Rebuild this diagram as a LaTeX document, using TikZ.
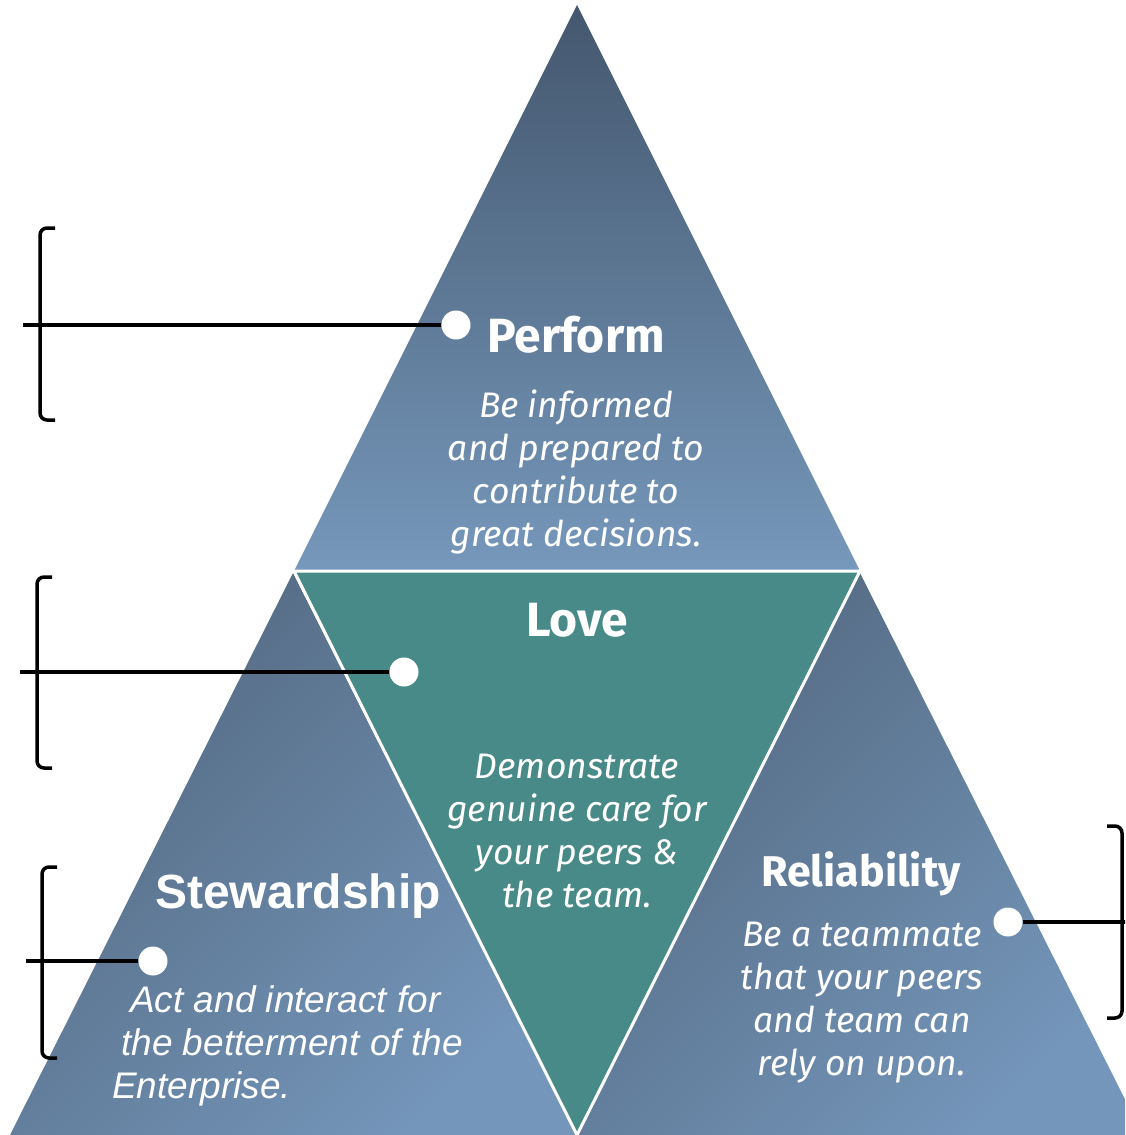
\documentclass[tikz,border=0pt]{standalone}
\usepackage{fontspec}
\setmainfont{Fira Sans}
\newfontfamily\arialfont{Liberation Sans}
\definecolor{slatetop}{HTML}{44576E}
\definecolor{slatebottom}{HTML}{7698BB}
\definecolor{slatedark}{HTML}{536880}
\definecolor{slatelight}{HTML}{7496BA}
\definecolor{loveteal}{HTML}{488A87}

\begin{document}
\begin{tikzpicture}[x = 1pt, y = -1pt,
    title/.style = {text = white, font = \bfseries\fontsize{48}{52}\selectfont, inner sep = 0pt, anchor = base},
    desc/.style = {text = white, font = \itshape\fontsize{35.5}{43}\selectfont, align = center, inner sep = 0pt},
    stew/.style = {text = white, font = \arialfont\itshape\fontsize{37}{43}\selectfont, inner sep = 0pt, anchor = base west},
    dot/.style = {circle, fill = white, minimum size = 29pt, inner sep = 0pt},
    brace/.style = {line width = 3.5pt, rounded corners = 7pt},
    link/.style = {line width = 4pt}]
    \clip (0,0) rectangle (1125,1135);
    \shade[top color = slatetop, bottom color = slatebottom] (577,5) -- (860,571) -- (294,571) -- cycle;
    \shade[top color = slatedark, bottom color = slatelight, shading angle = 45] (293,573) -- (577,1135) -- (10,1135) -- cycle;
    \shade[top color = slatedark, bottom color = slatelight, shading angle = 45] (860,573) -- (1143,1135) -- (577,1135) -- cycle;
    \filldraw[fill = loveteal, draw = white, line width = 3pt] (294,571) -- (860,571) -- (577,1135) -- cycle;

    \node[title] (perform) at (576,352) {Perform};
    \node[desc] (performtext) at (576,472) {Be informed\\and prepared to\\contribute to\\great decisions.};
    \node[title] (love) at (577,636) {Love};
    \node[desc] (lovetext) at (577,831) {Demonstrate\\genuine care for\\your peers \&\\the team.};
    \node[title, font = \arialfont\bfseries\fontsize{48}{52}\selectfont] (stewardship) at (298,908) {Stewardship};
    \node[stew] (stewline1) at (130,1012) {Act and interact for};
    \node[stew] (stewline2) at (121,1055) {the betterment of the};
    \node[stew] (stewline3) at (112,1098) {Enterprise.};
    \node[title, font = \bfseries\fontsize{43}{48}\selectfont] (reliability) at (861,886) {Reliability};
    \node[desc] (reliabilitytext) at (862,1003) {Be a teammate\\that your peers\\and team can\\rely on upon.};

    \draw[brace] (55,228) -- (40,228) -- (40,420) -- (55,420);
    \draw[brace] (52,577) -- (37,577) -- (37,768) -- (52,768);
    \draw[brace] (57,867) -- (42,867) -- (42,1058) -- (57,1058);
    \draw[brace] (1107,826) -- (1122,826) -- (1122,1018) -- (1107,1018);

    \coordinate (performtip) at (23,325);
    \coordinate (lovetip) at (20,672);
    \coordinate (stewtip) at (26,961);
    \coordinate (reliabilitytip) at (1135,922);

    \node[dot] (performdot) at (456,325) {};
    \node[dot] (lovedot) at (404,672) {};
    \node[dot] (stewdot) at (153,961) {};
    \node[dot] (reliabilitydot) at (1008,922) {};

    \draw[link] (performdot) -- (performtip);
    \draw[link] (lovedot) -- (lovetip);
    \draw[link] (stewdot) -- (stewtip);
    \draw[link] (reliabilitydot) -- (reliabilitytip);
\end{tikzpicture}
\end{document}
